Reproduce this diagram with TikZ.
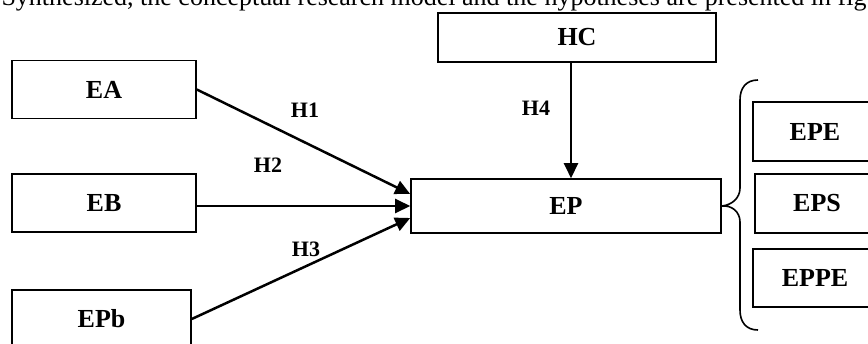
\documentclass[tikz,border=0pt]{standalone}
\usepackage{fontspec}
\setmainfont{Liberation Serif}
\usetikzlibrary{arrows.meta}

\begin{document}
\begin{tikzpicture}[x=1pt,y=-1pt,
	box/.style={draw, line width=1.6pt, inner sep=0pt, font=\fontsize{26}{29}\selectfont\bfseries},
	link/.style={-{Triangle[length=15pt,width=14pt]}, line width=2.5pt},
	hyp/.style={font=\fontsize{22}{25}\selectfont\bfseries}]
	\useasboundingbox (0,0) rectangle (868,343);
%	\draw[thin,gray!40] (0,0) grid[step=50] (868,343);

%% Running text
	\draw (-2, 5) node[anchor=base west, font=\fontsize{26}{29}\selectfont] (intro){Synthesized, the conceptual research model and the hypotheses are presented in fig};

%% Constructs
	\draw (104, 89.5) node[box, minimum width=184pt, minimum height=58pt] (ea){EA};
	\draw (104, 203) node[box, minimum width=184pt, minimum height=58pt] (eb){EB};
	\draw (101.5, 319) node[box, minimum width=179pt, minimum height=58pt] (epb){EPb};
	\draw (577, 37.5) node[box, minimum width=278pt, minimum height=49pt] (hc){HC};
	\draw (566, 206) node[box, minimum width=310pt, minimum height=54pt] (ep){EP};

%% Dimensions of EP
	\draw (815, 131.5) node[box, minimum width=124pt, minimum height=59pt] (epe){EPE};
	\draw (817, 203.5) node[box, minimum width=124pt, minimum height=59pt] (eps){EPS};
	\draw (815, 278) node[box, minimum width=124pt, minimum height=58pt] (eppe){EPPE};

%% Hypotheses
	\draw (305, 110) node[hyp] (h1){H1};
	\draw (268, 165) node[hyp] (h2){H2};
	\draw (306, 249) node[hyp] (h3){H3};
	\draw (536, 108) node[hyp] (h4){H4};

	% Lines
	\draw[link] (ea.east) -- ([yshift=12pt]ep.west);
	\draw[link] (eb.east |- ep.west) -- (ep.west);
	\draw[link] (epb.east) -- ([yshift=-12pt]ep.west);
	\draw[link] ([xshift=-6pt]hc.south) -- ([xshift=5pt]ep.north);

	% Brace
	\draw[line width=1.6pt] (758,80) .. controls (746,80) and (740,88) .. (740,100) -- (740,188)
		.. controls (740,198) and (732,205) .. (ep.east)
		.. controls (732,205) and (740,212) .. (740,222) -- (740,310)
		.. controls (740,322) and (746,330) .. (758,330);
\end{tikzpicture}
\end{document}
